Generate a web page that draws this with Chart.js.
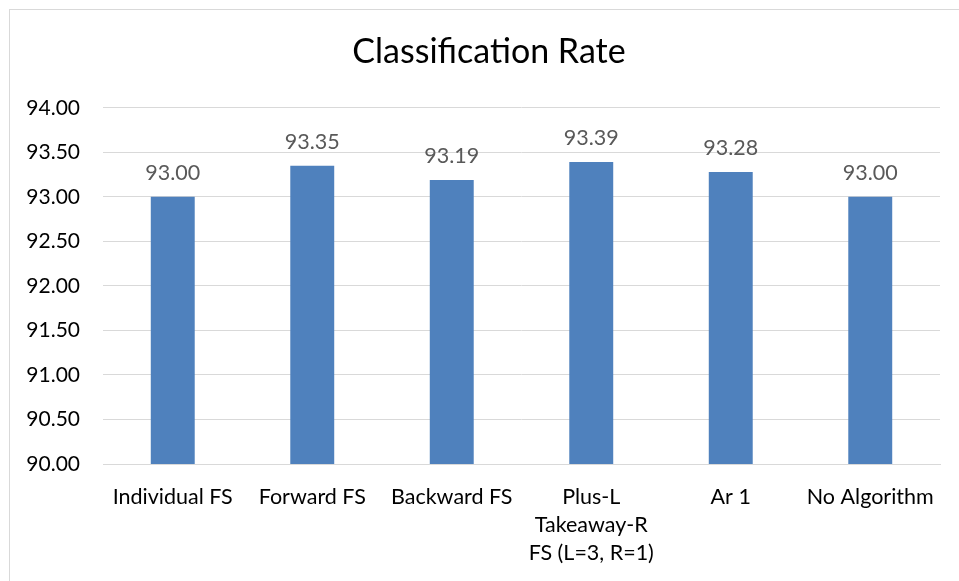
<!DOCTYPE html>
<html>
<head>
<meta charset="utf-8">
<script src="https://cdn.jsdelivr.net/npm/chart.js@4.4.1/dist/chart.umd.min.js"></script>
<style>
  html, body { margin: 0; padding: 0; background: #ffffff; }
  #wrap { position: relative; width: 959px; height: 581px; overflow: hidden; }
  #frame { position: absolute; left: 9px; top: 9px; width: 980px; height: 620px;
           border: 1px solid #d9d9d9; box-sizing: border-box; }
  #c { position: absolute; left: 0; top: 0; }
</style>
</head>
<body>
<div id="wrap">
  <div id="frame"></div>
  <canvas id="c" width="959" height="581"></canvas>
</div>
<script>
// Feature-selection methods and their classification rates (%)
const categories = [
  'Individual FS',
  'Forward FS',
  'Backward FS',
  ['Plus-L', 'Takeaway-R', 'FS (L=3, R=1)'],
  'Ar 1',
  'No Algorithm'
];
const rates = [93.00, 93.35, 93.19, 93.39, 93.28, 93.00];
const yTicks = { min: 90, max: 94, step: 0.5 };

const FONT = 'Lato, "Open Sans", sans-serif';

// Draws the value above each bar, two decimals
const valueLabels = {
  id: 'valueLabels',
  afterDatasetsDraw(chart) {
    const ctx = chart.ctx;
    const meta = chart.getDatasetMeta(0);
    ctx.save();
    ctx.font = '21.5px ' + FONT;
    ctx.fillStyle = '#595959';
    ctx.textAlign = 'center';
    ctx.textBaseline = 'bottom';
    meta.data.forEach((bar, i) => {
      ctx.fillText(rates[i].toFixed(2), bar.x, bar.y - 13);
    });
    ctx.restore();
  }
};

// Centre the title over the whole frame rather than the padded box
const titleShift = {
  id: 'titleShift',
  afterLayout(chart) {
    if (chart.titleBlock) chart.titleBlock.left += 20;
  }
};

new Chart(document.getElementById('c'), {
  type: 'bar',
  data: {
    labels: categories,
    datasets: [{
      data: rates,
      backgroundColor: '#4f81bd',
      borderWidth: 0,
      barPercentage: 0.315,
      categoryPercentage: 1.0
    }]
  },
  options: {
    responsive: false,
    animation: false,
    devicePixelRatio: 1,
    layout: { padding: { left: 18, right: 19, top: 0, bottom: 0 } },
    plugins: {
      legend: { display: false },
      tooltip: { enabled: false },
      title: {
        display: true,
        text: 'Classification Rate',
        color: '#000000',
        font: { family: FONT, size: 34, weight: 'normal' },
        padding: { top: 32, bottom: 35 }
      }
    },
    scales: {
      x: {
        grid: { display: false, drawTicks: false },
        border: { display: true, color: '#d9d9d9', width: 1 },
        ticks: {
          color: '#000000',
          font: { family: FONT, size: 21.5, lineHeight: 1.3 },
          padding: 19,
          maxRotation: 0,
          autoSkip: false
        },
        afterFit(scale) { scale.height = 117; }
      },
      y: {
        min: yTicks.min,
        max: yTicks.max,
        grid: { color: '#d9d9d9', lineWidth: 1, drawTicks: false },
        border: { display: false },
        ticks: {
          stepSize: yTicks.step,
          color: '#000000',
          font: { family: FONT, size: 21 },
          padding: 23,
          callback: v => Number(v).toFixed(2)
        },
        afterFit(scale) { scale.width = 85; }
      }
    }
  },
  plugins: [valueLabels, titleShift]
});
</script>
</body>
</html>
